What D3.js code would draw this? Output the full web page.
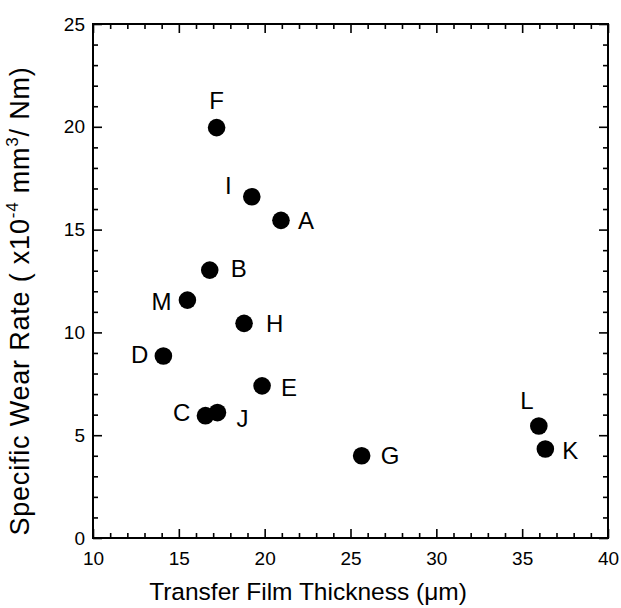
<!DOCTYPE html>
<html>
<head>
<meta charset="utf-8">
<script src="https://cdn.jsdelivr.net/npm/d3@7"></script>
<style>
  body { margin: 0; background: #fff; }
  svg { display: block; font-family: 'Liberation Sans', Arial, sans-serif; }
  .axis text { font-size: 19px; fill: #000; }
  .axis line { stroke: #000; stroke-width: 1.6; }
  .axis .domain { display: none; }
</style>
</head>
<body>
<div class="chart"></div>
<script>
'use strict';

// samples
const labels = ['A', 'B', 'C', 'D', 'E', 'F', 'G', 'H', 'I', 'J', 'K', 'L', 'M'];
const thickness = [20.95, 16.8, 16.55, 14.1, 19.85, 17.2, 25.65, 18.8, 19.25, 17.25, 36.35, 35.97, 15.5];
const wearRate = [15.45, 13.03, 5.95, 8.85, 7.4, 19.96, 4.0, 10.44, 16.6, 6.1, 4.33, 5.45, 11.57];

const xTicks = [10, 15, 20, 25, 30, 35, 40];
const yTicks = [0, 5, 10, 15, 20, 25];

// where each letter sits next to its dot
const labelPlace = {
  A: [17, 9, 'start'], B: [21, 7, 'start'], C: [-15, 5, 'end'], D: [-15, 7, 'end'],
  E: [19, 10, 'start'], F: [0, -19, 'middle'], G: [19, 8, 'start'], H: [22, 9, 'start'],
  I: [-20, -3, 'end'], J: [19, 14, 'start'], K: [17, 10, 'start'], L: [-12, -17, 'middle'],
  M: [-16, 10, 'end']
};

const FULL_WIDTH = 621;
const FULL_HEIGHT = 608;
const margin = { top: 24, right: 13, bottom: 70, left: 93 };
const WIDTH = FULL_WIDTH - margin.left - margin.right;
const HEIGHT = FULL_HEIGHT - margin.top - margin.bottom;

const svg = d3.select('.chart')
  .append('svg')
    .attr('width', FULL_WIDTH)
    .attr('height', FULL_HEIGHT);

const g = svg.append('g')
    .attr('transform', 'translate(' + margin.left + ',' + margin.top + ')');

const x = d3.scaleLinear().domain([10, 40]).range([0, WIDTH]);
const y = d3.scaleLinear().domain([0, 25]).range([HEIGHT, 0]);

const xMinor = d3.range(10, 41, 1).filter((v) => v % 5 !== 0);
const yMinor = d3.range(0, 26, 1).filter((v) => v % 5 !== 0);

// bottom + top
g.append('g').attr('class', 'axis')
  .attr('transform', 'translate(0,' + HEIGHT + ')')
  .call(d3.axisBottom(x).tickValues(xTicks).tickSize(-9).tickPadding(14).tickFormat(d3.format('d')));
g.append('g').attr('class', 'axis')
  .attr('transform', 'translate(0,' + HEIGHT + ')')
  .call(d3.axisBottom(x).tickValues(xMinor).tickSize(-5).tickFormat(''));
g.append('g').attr('class', 'axis')
  .call(d3.axisTop(x).tickValues(xTicks).tickSize(-9).tickFormat(''));
g.append('g').attr('class', 'axis')
  .call(d3.axisTop(x).tickValues(xMinor).tickSize(-5).tickFormat(''));

// left + right
g.append('g').attr('class', 'axis')
  .call(d3.axisLeft(y).tickValues(yTicks).tickSize(-9).tickPadding(8).tickFormat(d3.format('d')));
g.append('g').attr('class', 'axis')
  .call(d3.axisLeft(y).tickValues(yMinor).tickSize(-5).tickFormat(''));
g.append('g').attr('class', 'axis')
  .attr('transform', 'translate(' + WIDTH + ',0)')
  .call(d3.axisRight(y).tickValues(yTicks).tickSize(-9).tickFormat(''));
g.append('g').attr('class', 'axis')
  .attr('transform', 'translate(' + WIDTH + ',0)')
  .call(d3.axisRight(y).tickValues(yMinor).tickSize(-5).tickFormat(''));

g.append('rect')
  .attr('width', WIDTH)
  .attr('height', HEIGHT)
  .attr('fill', 'none')
  .attr('stroke', '#000')
  .attr('stroke-width', 2);

const points = labels.map((d, i) => ({ label: d, t: thickness[i], w: wearRate[i] }));

g.selectAll('.dot')
  .data(points)
  .enter()
  .append('circle')
  .attr('class', 'dot')
  .attr('cx', (d) => x(d.t))
  .attr('cy', (d) => y(d.w))
  .attr('r', 8.8)
  .attr('fill', '#000');

g.selectAll('.point-label')
  .data(points)
  .enter()
  .append('text')
  .attr('class', 'point-label')
  .attr('x', (d) => x(d.t) + labelPlace[d.label][0])
  .attr('y', (d) => y(d.w) + labelPlace[d.label][1])
  .attr('text-anchor', (d) => labelPlace[d.label][2])
  .attr('font-size', 24)
  .attr('fill', '#000')
  .text((d) => d.label);

svg.append('text')
  .attr('x', 308)
  .attr('y', 600)
  .attr('text-anchor', 'middle')
  .attr('font-size', 24.5)
  .text('Transfer Film Thickness (\u03bcm)');

const yTitle = svg.append('text')
  .attr('transform', 'translate(29,301) rotate(-90)')
  .attr('text-anchor', 'middle')
  .attr('font-size', 27)
  .attr('letter-spacing', 0.8);
yTitle.append('tspan').text('Specific Wear Rate ( x10');
yTitle.append('tspan').attr('font-size', 17).attr('dy', -11).text('-4');
yTitle.append('tspan').attr('dy', 11).text(' mm');
yTitle.append('tspan').attr('font-size', 17).attr('dy', -11).text('3');
yTitle.append('tspan').attr('dy', 11).text('/ Nm)');
</script>
</body>
</html>
